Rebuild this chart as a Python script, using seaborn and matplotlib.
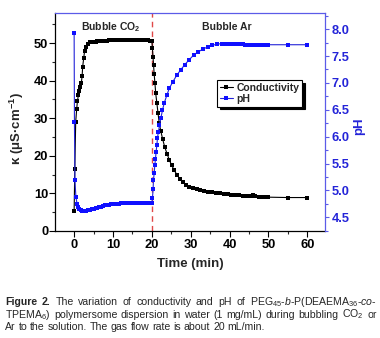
import matplotlib
matplotlib.use("Agg")
import matplotlib.pyplot as plt
import seaborn as sns
import numpy as np
import pandas as pd
from matplotlib.ticker import MultipleLocator
from matplotlib.lines import Line2D

# ---------------- data ----------------
cond_time = [0.0, 0.17, 0.4, 0.65, 0.85, 1.1, 1.35, 1.6, 1.85, 2.05, 2.2, 2.45, 2.7, 3.0, 3.5,
             4.2, 5.0, 5.5, 6.0, 6.5, 7.0, 7.5, 8.0, 8.5, 9.0, 9.5, 10.0, 10.5, 11.0, 11.5,
             12.0, 12.5, 13.0, 13.5, 14.0, 14.5, 15.0, 15.5, 16.0, 16.5, 17.0, 17.5, 18.0,
             18.5, 19.0, 19.5, 20.0,
             20.15, 20.3, 20.45, 20.6, 20.8, 21.0, 21.3, 21.6, 21.9, 22.3, 22.8, 23.3, 23.9,
             24.5, 25.1, 25.8, 26.5, 27.2, 28.0, 28.8, 29.6, 30.5, 31.5, 32.5, 33.5, 34.5,
             35.5, 36.5, 37.5, 38.5, 39.5, 40.5, 41.5, 42.5, 43.5, 44.5, 45.5, 46.0, 46.5,
             47.5, 48.5, 49.5, 50.0, 55.0, 60.0]
cond_kappa = [5.4, 16.4, 29.0, 32.4, 34.6, 36.2, 37.3, 38.4, 39.4, 41.2, 43.7, 45.9, 47.9, 49.0, 49.7,
              50.2, 50.4, 50.4, 50.5, 50.5, 50.6, 50.6, 50.6, 50.6, 50.7, 50.7, 50.7, 50.7, 50.7, 50.7,
              50.7, 50.7, 50.7, 50.7, 50.7, 50.7, 50.7, 50.7, 50.7, 50.7, 50.7, 50.7, 50.7,
              50.7, 50.7, 50.6, 50.6,
              48.6, 46.4, 44.1, 41.8, 39.3, 36.6, 34.0, 31.3, 28.8, 26.6, 24.4, 22.4, 20.6,
              18.9, 17.5, 16.1, 14.9, 13.9, 13.0, 12.3, 11.8, 11.4, 11.1, 10.9, 10.7, 10.5,
              10.3, 10.2, 10.0, 9.9, 9.8, 9.7, 9.6, 9.5, 9.4, 9.3, 9.4, 9.6, 9.3,
              9.1, 9.0, 9.0, 9.0, 8.9, 8.9]

ph_time = [0.0, 0.08, 0.2, 0.45, 0.75, 1.0, 1.3, 1.7, 2.1, 2.5, 3.0, 3.5, 4.0, 4.5, 5.0, 5.5,
           6.0, 6.5, 7.0, 7.5, 8.0, 8.5, 9.0, 9.5, 10.0, 10.5, 11.0, 11.5, 12.0, 12.5, 13.0,
           13.5, 14.0, 14.5, 15.0, 15.5, 16.0, 16.5, 17.0, 17.5, 18.0, 18.5, 19.0, 19.5, 20.0,
           20.16, 20.33, 20.42, 20.6, 20.77, 20.94, 21.1, 21.3, 21.45, 21.7, 21.97, 22.3,
           22.74, 23.17, 23.86, 24.5, 25.4, 26.4, 27.4, 28.5, 29.6, 30.8, 32.0, 33.2, 34.4,
           35.6, 36.8, 38.0, 38.5, 39.0, 39.5, 40.0, 40.5, 41.0, 41.5, 42.0, 42.5, 43.0, 43.5,
           44.0, 44.5, 45.0, 45.5, 46.0, 46.5, 47.0, 47.5, 48.0, 48.5, 49.0, 49.5, 50.0,
           55.0, 60.0]
ph_value = [7.93, 6.27, 5.20, 4.88, 4.75, 4.69, 4.66, 4.63, 4.62, 4.62, 4.62, 4.63, 4.64, 4.65, 4.66, 4.67,
            4.68, 4.69, 4.70, 4.71, 4.72, 4.73, 4.73, 4.74, 4.74, 4.75, 4.75, 4.75, 4.76, 4.76, 4.76,
            4.77, 4.77, 4.77, 4.77, 4.77, 4.77, 4.77, 4.77, 4.77, 4.77, 4.77, 4.77, 4.77, 4.77,
            4.85, 5.03, 5.19, 5.32, 5.47, 5.59, 5.72, 5.84, 5.98, 6.09, 6.21, 6.34,
            6.49, 6.62, 6.77, 6.90, 7.02, 7.14, 7.24, 7.34, 7.43, 7.52, 7.58, 7.63, 7.67,
            7.70, 7.72, 7.73, 7.73, 7.73, 7.73, 7.73, 7.73, 7.73, 7.72, 7.72, 7.72, 7.72, 7.72,
            7.71, 7.71, 7.71, 7.71, 7.71, 7.71, 7.71, 7.71, 7.71, 7.71, 7.71, 7.71, 7.71,
            7.71, 7.71]

x_ticks = [0, 10, 20, 30, 40, 50, 60]
k_ticks = [0, 10, 20, 30, 40, 50]
ph_ticks = [4.5, 5.0, 5.5, 6.0, 6.5, 7.0, 7.5, 8.0]
switch_time = 20

cond_df = pd.DataFrame({"Time": cond_time, "Conductivity": cond_kappa})
ph_df = pd.DataFrame({"Time": ph_time, "pH": ph_value})

# ---------------- style ----------------
sns.set_theme(style="ticks")
plt.rcParams['font.family'] = ['Liberation Sans', 'DejaVu Sans']
plt.rcParams['mathtext.fontset'] = 'custom'
plt.rcParams['mathtext.rm'] = 'Liberation Sans'
plt.rcParams['mathtext.it'] = 'Liberation Sans:italic'
plt.rcParams['mathtext.bf'] = 'Liberation Sans:bold'

BLUE = '#2424d8'
SPINE_BLUE = '#5b5be8'
MS = 2.7

fig = plt.figure(figsize=(3.8, 3.38), dpi=100)
ax = fig.add_axes([0.145, 0.3166, 0.7105, 0.6449])
ax2 = ax.twinx()

ax.axvline(switch_time, color='#e04848', ls=(0, (4, 3)), lw=1.0, zorder=1)

sns.lineplot(data=cond_df, x="Time", y="Conductivity", ax=ax, sort=False, estimator=None,
             color='black', lw=0.8, marker='s', markersize=MS, markeredgewidth=0,
             legend=False, zorder=3)
sns.lineplot(data=ph_df, x="Time", y="pH", ax=ax2, sort=False, estimator=None,
             color=BLUE, lw=0.8, marker='s', markersize=MS, markeredgewidth=0,
             markerfacecolor='#1010ff', legend=False, zorder=3)

ax.set_xlim(-4.9, 64.6)
ax.set_ylim(0, 58)
ax2.set_ylim(4.245, 8.30)
ax.set_xticks(x_ticks)
ax.set_yticks(k_ticks)
ax2.set_yticks(ph_ticks)
ax.xaxis.set_minor_locator(MultipleLocator(5))
ax.yaxis.set_minor_locator(MultipleLocator(5))
ax2.yaxis.set_minor_locator(MultipleLocator(0.25))
ax2.set_yticklabels([f"{v:.1f}" for v in ph_ticks])

for lab in ax.get_xticklabels() + ax.get_yticklabels():
    lab.set_fontweight('bold'); lab.set_fontsize(9.3)
for lab in ax2.get_yticklabels():
    lab.set_fontweight('bold'); lab.set_fontsize(9.3); lab.set_color(BLUE)

ax.tick_params(axis='both', which='major', direction='out', length=4, width=0.8, pad=1, colors='black')
ax.tick_params(axis='both', which='minor', direction='out', length=2, width=0.8)
ax.tick_params(axis='x', which='major', pad=2)
ax2.tick_params(axis='y', which='major', direction='out', length=3, width=0.8, pad=1.5,
                color=SPINE_BLUE, labelcolor=BLUE)
ax2.tick_params(axis='y', which='minor', direction='out', length=1.8, width=0.8, color=SPINE_BLUE)

for s in ['left', 'bottom']:
    ax.spines[s].set_color('black'); ax.spines[s].set_linewidth(0.9)
ax2.spines['left'].set_visible(False)
ax2.spines['bottom'].set_visible(False)
ax.spines['top'].set_visible(False)
ax.spines['right'].set_visible(False)
ax2.spines['right'].set_color(SPINE_BLUE); ax2.spines['right'].set_linewidth(0.9)
ax2.spines['top'].set_color(SPINE_BLUE); ax2.spines['top'].set_linewidth(0.9)

ax.set_xlabel("Time (min)", fontsize=9.5, fontweight='bold')
ax.xaxis.set_label_coords(0.5, -0.125)
ax.set_ylabel(r"κ (μS·cm$^{\mathbf{-1}}$)", fontsize=9.5, fontweight='bold')
ax.yaxis.set_label_coords(-0.108, 0.468)
ax2.set_ylabel("pH", fontsize=9.5, fontweight='bold', color=BLUE, rotation=90)
ax2.yaxis.set_label_coords(1.104, 0.479)

ax.text(0.207, 0.936, r"Bubble CO$_{\mathbf{2}}$", transform=ax.transAxes, ha='center', va='center',
        fontsize=7.5, fontweight='bold')
ax.text(0.637, 0.936, "Bubble Ar", transform=ax.transAxes, ha='center', va='center',
        fontsize=7.5, fontweight='bold')

handles = [Line2D([], [], color='black', lw=0.8, marker='s', markersize=MS, markeredgewidth=0),
           Line2D([], [], color=BLUE, lw=0.8, marker='s', markersize=MS, markeredgewidth=0,
                  markerfacecolor='#1010ff')]
leg = ax2.legend(handles, ["Conductivity", "pH"], loc='upper left', bbox_to_anchor=(0.6, 0.693),
                 borderaxespad=0, frameon=True, fancybox=False, shadow={'color': 'black', 'alpha': 1},
                 edgecolor='black', framealpha=1, prop={'size': 7.5, 'weight': 'bold'},
                 handlelength=1.3, handletextpad=0.3, borderpad=0.25, labelspacing=0.15,
                 numpoints=1)
leg.get_frame().set_linewidth(0.8)

# ---------------- caption ----------------
renderer = fig.canvas.get_renderer()
W, H = 380.0, 338.0
CAP = 7.6

def caption_line(words, y_base, x0, x1, justify):
    items = []
    for w, wt in words:
        t = fig.text(0, 1 - y_base / H, w, fontsize=CAP, fontweight=wt, va='baseline', ha='left')
        items.append(t)
    widths = [t.get_window_extent(renderer).width for t in items]
    space = fig.text(0, 0, "a a", fontsize=CAP).get_window_extent(renderer).width - \
        fig.text(0, 0, "aa", fontsize=CAP).get_window_extent(renderer).width
    for t in fig.texts[-2:]:
        t.remove()
    if justify and len(items) > 1:
        gap = (x1 - x0 - sum(widths)) / (len(items) - 1)
    else:
        gap = space
    x = x0
    for t, w in zip(items, widths):
        t.set_x(x / W)
        x += w + gap

line1 = [("Figure", 'bold'), ("2.", 'bold'), ("The", 'normal'), ("variation", 'normal'),
         ("of", 'normal'), ("conductivity", 'normal'), ("and", 'normal'), ("pH", 'normal'),
         ("of", 'normal'), (r"PEG$_{45}$-$\mathit{b}$-P(DEAEMA$_{36}$-$\mathit{co}$-", 'normal')]
line2 = [(r"TPEMA$_{6}$)", 'normal'), ("polymersome", 'normal'), ("dispersion", 'normal'),
         ("in", 'normal'), ("water", 'normal'), ("(1", 'normal'), ("mg/mL)", 'normal'),
         ("during", 'normal'), ("bubbling", 'normal'), (r"CO$_{2}$", 'normal'), ("or", 'normal')]
line3 = [(w, 'normal') for w in "Ar to the solution. The gas flow rate is about 20 mL/min.".split()]

caption_line(line1, 305, 5, 376.5, True)
caption_line(line2, 317.5, 5, 376.5, True)
caption_line(line3, 330, 5, 376.5, False)

fig.savefig("out.png", dpi=100)
